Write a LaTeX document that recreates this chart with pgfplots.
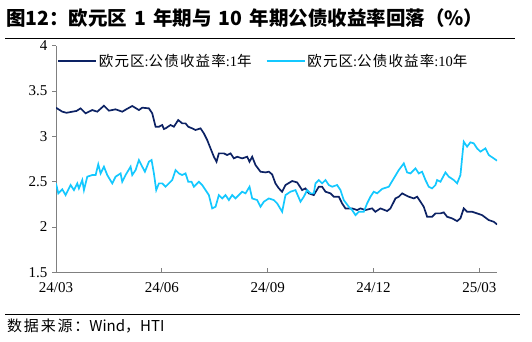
\documentclass[border=0pt]{standalone}
\usepackage{pgfplots}
\pgfplotsset{compat=1.18}
\usepackage{fontspec}
\setmainfont{Liberation Serif}
\newfontfamily\cjk{Noto Sans CJK SC}
\newfontfamily\cjkls[LetterSpace=8]{Noto Sans CJK SC}
\newfontfamily\cjksrc[LetterSpace=12]{Noto Sans CJK SC}
\definecolor{navy}{RGB}{12,34,100}
\definecolor{cyanl}{RGB}{20,200,255}
\definecolor{axgray}{RGB}{128,128,128}
\begin{document}
\begin{tikzpicture}[x=1pt,y=1pt]
\useasboundingbox (0,0) rectangle (532,341);
\node[anchor=west,inner sep=0] at (6,323) {\fontsize{19.5}{22}\selectfont\cjk\bfseries 图12：欧元区\hspace{7pt}1\hspace{7pt}年期与\hspace{7pt}10\hspace{7pt}年期公债收益率回落（\%）};
\draw[black,line width=0.8pt] (5,302.5) -- (515,302.5);
\draw[black,line width=0.8pt] (5,27) -- (520,27);
\node[anchor=west,inner sep=0] at (7,15.5) {\fontsize{15}{17}\selectfont{\cjksrc 数据来源：}{\cjk Wind，HTI}};
\begin{axis}[
  at={(56pt,68.7pt)}, anchor=south west, scale only axis,
  width=441pt, height=226.6pt,
  xmin=0, xmax=12.5, ymin=1.5, ymax=4,
  axis x line*=bottom, axis y line*=left,
  axis line style={axgray, line width=0.9pt},
  xtick={0,3,6,9,12}, xticklabels={24/03,24/06,24/09,24/12,25/03},
  ytick={1.5,2,2.5,3,3.5,4},
  tick align=inside, major tick length=4pt,
  tick style={axgray, line width=0.9pt},
  y tick style={xshift=-4pt},
  /pgf/number format/assume math mode=true,
  tick label style={font=\fontsize{15}{17}\selectfont},
  yticklabel style={xshift=-5pt},
  xticklabel style={yshift=-7pt},
  legend style={draw=none, fill=none, at={(0,1)}, anchor=north west, xshift=-2pt, yshift=-4pt,
    font=\fontsize{14.5}{17}\selectfont, legend columns=2,
    /tikz/every even column/.append style={column sep=12pt}},
  legend image code/.code={\draw[#1] (0pt,0pt) -- (38pt,0pt);},
]
\addplot[navy, line width=1.7pt] coordinates {
(0,3.316)(0.178,3.272)(0.30,3.26)(0.462,3.272)(0.58,3.28)(0.698,3.309)(0.839,3.254)(1.028,3.29)(1.17,3.272)(1.359,3.338)(1.50,3.283)(1.689,3.298)(1.878,3.272)(2.0,3.30)(2.161,3.335)(2.35,3.29)(2.445,3.316)(2.633,3.309)(2.728,3.254)(2.822,3.106)(2.917,3.106)(3.011,3.125)(3.058,3.081)(3.105,3.088)(3.247,3.125)(3.341,3.106)(3.464,3.18)(3.578,3.143)(3.672,3.143)(3.748,3.106)(3.861,3.088)(3.955,3.07)(4.097,3.088)(4.191,3.033)(4.286,2.959)(4.38,2.867)(4.475,2.775)(4.55,2.72)(4.616,2.812)(4.758,2.812)(4.852,2.794)(4.947,2.812)(5.041,2.757)(5.136,2.775)(5.277,2.757)(5.419,2.775)(5.485,2.72)(5.561,2.775)(5.655,2.683)(5.797,2.61)(5.938,2.602)(6.033,2.61)(6.127,2.58)(6.221,2.48)(6.316,2.426)(6.41,2.389)(6.505,2.463)(6.694,2.507)(6.835,2.492)(6.977,2.407)(7.071,2.426)(7.166,2.371)(7.307,2.352)(7.449,2.444)(7.543,2.444)(7.638,2.389)(7.78,2.371)(7.874,2.334)(8.016,2.334)(8.11,2.26)(8.204,2.205)(8.393,2.205)(8.535,2.187)(8.629,2.205)(8.771,2.187)(8.96,2.205)(9.054,2.168)(9.196,2.205)(9.386,2.176)(9.48,2.205)(9.622,2.315)(9.716,2.334)(9.811,2.371)(9.905,2.352)(9.999,2.334)(10.141,2.315)(10.236,2.334)(10.33,2.279)(10.424,2.223)(10.519,2.113)(10.66,2.113)(10.755,2.15)(10.897,2.15)(10.991,2.161)(11.085,2.113)(11.227,2.095)(11.369,2.065)(11.463,2.095)(11.557,2.205)(11.652,2.168)(11.794,2.168)(11.935,2.15)(12.077,2.131)(12.266,2.076)(12.407,2.058)(12.502,2.028)
};
\addlegendentry{{\cjkls 欧元区}:{\cjkls 公债收益率}:1{\cjk 年}}
\addplot[cyanl, line width=1.7pt] coordinates {
(0,2.481)(0.065,2.371)(0.178,2.415)(0.273,2.352)(0.414,2.463)(0.509,2.407)(0.603,2.481)(0.65,2.426)(0.745,2.518)(0.792,2.407)(0.887,2.555)(1.028,2.573)(1.123,2.573)(1.198,2.691)(1.264,2.591)(1.359,2.665)(1.453,2.573)(1.595,2.481)(1.689,2.555)(1.831,2.591)(1.878,2.499)(1.972,2.573)(2.114,2.665)(2.161,2.573)(2.256,2.628)(2.35,2.739)(2.445,2.665)(2.52,2.61)(2.633,2.72)(2.709,2.739)(2.775,2.591)(2.841,2.407)(2.917,2.481)(3.011,2.481)(3.058,2.463)(3.105,2.444)(3.2,2.481)(3.294,2.518)(3.389,2.628)(3.483,2.591)(3.578,2.573)(3.672,2.591)(3.748,2.499)(3.842,2.499)(3.908,2.444)(3.955,2.463)(4.05,2.499)(4.144,2.463)(4.239,2.407)(4.333,2.352)(4.427,2.205)(4.522,2.223)(4.616,2.352)(4.711,2.315)(4.805,2.352)(4.9,2.297)(4.994,2.352)(5.088,2.315)(5.183,2.352)(5.277,2.389)(5.372,2.371)(5.485,2.444)(5.561,2.315)(5.702,2.297)(5.797,2.223)(5.891,2.279)(6.033,2.315)(6.174,2.297)(6.269,2.26)(6.41,2.168)(6.505,2.352)(6.646,2.389)(6.788,2.407)(6.93,2.279)(7.024,2.334)(7.119,2.407)(7.213,2.371)(7.307,2.371)(7.355,2.481)(7.449,2.518)(7.543,2.481)(7.638,2.518)(7.732,2.463)(7.827,2.444)(7.968,2.463)(8.063,2.407)(8.157,2.297)(8.299,2.223)(8.393,2.187)(8.488,2.131)(8.582,2.168)(8.724,2.168)(8.818,2.26)(8.913,2.334)(9.007,2.389)(9.102,2.371)(9.243,2.42)(9.433,2.444)(9.574,2.536)(9.716,2.628)(9.858,2.702)(9.952,2.602)(10.047,2.591)(10.188,2.647)(10.283,2.591)(10.377,2.61)(10.472,2.518)(10.566,2.444)(10.66,2.426)(10.755,2.463)(10.802,2.518)(10.897,2.499)(11.038,2.602)(11.133,2.555)(11.274,2.518)(11.369,2.481)(11.463,2.573)(11.557,2.941)(11.652,2.886)(11.746,2.934)(11.841,2.923)(11.935,2.867)(12.03,2.831)(12.171,2.867)(12.266,2.794)(12.407,2.757)(12.502,2.731)
};
\addlegendentry{{\cjkls 欧元区}:{\cjkls 公债收益率}:10{\cjk 年}}
\end{axis}
\end{tikzpicture}
\end{document}
